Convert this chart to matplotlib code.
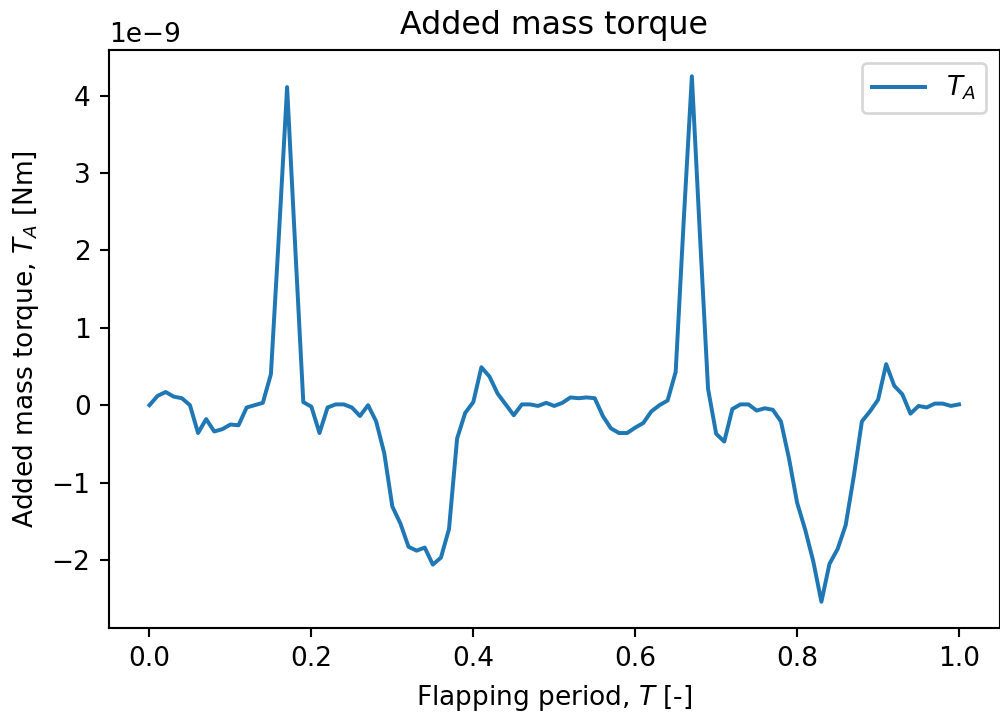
import numpy as np
import matplotlib
matplotlib.use("Agg")
import matplotlib.pyplot as plt

# Flapping period samples (0 to 1, step 0.01)
period = [round(i * 0.01, 2) for i in range(101)]

# Added mass torque values in units of 1e-9 Nm
torque_e9 = [
    0.00, 0.12, 0.17, 0.11, 0.09, 0.00, -0.36, -0.18, -0.34, -0.31,
    -0.25, -0.26, -0.03, 0.00, 0.03, 0.40, 2.22, 4.11, 2.05, 0.04,
    -0.02, -0.36, -0.03, 0.01, 0.01, -0.03, -0.14, 0.00, -0.21, -0.62,
    -1.31, -1.53, -1.83, -1.88, -1.84, -2.06, -1.97, -1.60, -0.43, -0.10,
    0.04, 0.49, 0.37, 0.15, 0.01, -0.13, 0.01, 0.01, -0.01, 0.03,
    -0.01, 0.03, 0.10, 0.09, 0.10, 0.09, -0.14, -0.30, -0.36, -0.36,
    -0.29, -0.23, -0.08, 0.00, 0.06, 0.43, 2.40, 4.25, 2.19, 0.21,
    -0.37, -0.47, -0.05, 0.01, 0.01, -0.07, -0.04, -0.06, -0.21, -0.69,
    -1.26, -1.61, -2.02, -2.54, -2.05, -1.86, -1.55, -0.92, -0.21, -0.08,
    0.07, 0.53, 0.25, 0.14, -0.11, -0.01, -0.03, 0.02, 0.02, -0.01,
    0.01,
]

x = np.array(period)
y = np.array(torque_e9) * 1e-9

DPI = 190
fig = plt.figure(figsize=(1000 / DPI, 716 / DPI), dpi=DPI)
ax = fig.add_axes([0.109, 1 - 628 / 716, 0.8905, (628 - 50) / 716])
ax.plot(x, y, color="#1f77b4", linewidth=1.5, label="$T_A$")
ax.set_title("Added mass torque")
ax.set_xlabel("Flapping period, $T$ [-]")
ax.set_ylabel("Added mass torque, $T_A$ [Nm]")
ax.legend(loc="upper right")
fig.savefig("out.png", dpi=DPI)
